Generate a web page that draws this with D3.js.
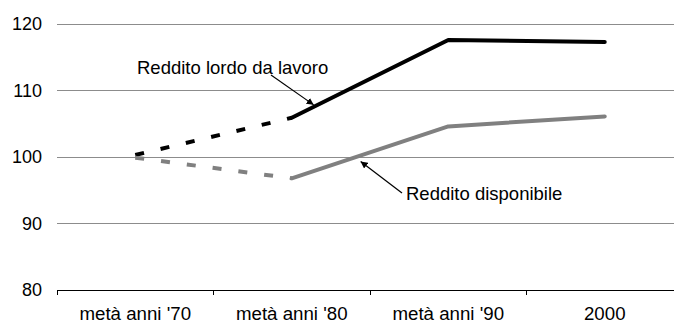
<!DOCTYPE html>
<html>
<head>
<meta charset="utf-8">
<script src="https://cdn.jsdelivr.net/npm/d3@7"></script>
<style>
  html, body { margin: 0; padding: 0; background: #fff; }
  svg { display: block; font-family: "Liberation Sans", Arial, sans-serif; }
</style>
</head>
<body>
<svg id="chart" width="674" height="325"></svg>
<script>
// Periods on the horizontal axis
const categories = ["metà anni '70", "metà anni '80", "metà anni '90", "2000"];
// Index values (metà anni '70 = 100)
const redditoLordo = [100.3, 105.9, 117.6, 117.3];
const redditoDisponibile = [99.9, 96.8, 104.6, 106.1];
const yTicks = [80, 90, 100, 110, 120];

const seriesList = [
  { name: "Reddito lordo da lavoro", values: redditoLordo, color: "#000000" },
  { name: "Reddito disponibile", values: redditoDisponibile, color: "#808080" }
];

const svg = d3.select("#chart");
const plot = { left: 57, right: 683, top: 24, bottom: 290 };

const x = d3.scaleBand().domain(categories).range([plot.left, plot.right]);
const y = d3.scaleLinear().domain([80, 120]).range([plot.bottom, plot.top]);
const cx = c => x(c) + x.bandwidth() / 2;

// Horizontal gridlines
svg.append("g").selectAll("line")
  .data(yTicks.filter(v => v > 80))
  .join("line")
  .attr("x1", plot.left).attr("x2", plot.right)
  .attr("y1", d => y(d)).attr("y2", d => y(d))
  .attr("stroke", "#8c8c8c").attr("stroke-width", 1)
  .attr("shape-rendering", "crispEdges");

// Y axis labels
const yAxis = d3.axisLeft(y).tickValues(yTicks).tickSize(0).tickPadding(15);
const gy = svg.append("g").attr("transform", `translate(${plot.left},0)`).call(yAxis);
gy.select(".domain").remove();
gy.selectAll("text")
  .attr("font-size", 18).attr("fill", "#000")
  .attr("font-family", "'Liberation Sans', Arial, sans-serif");

// X axis with ticks on the band boundaries
svg.append("line")
  .attr("x1", plot.left).attr("x2", plot.right)
  .attr("y1", plot.bottom).attr("y2", plot.bottom)
  .attr("stroke", "#000").attr("stroke-width", 1)
  .attr("shape-rendering", "crispEdges");
svg.append("g").selectAll("line")
  .data(categories)
  .join("line")
  .attr("x1", d => x(d)).attr("x2", d => x(d))
  .attr("y1", plot.bottom).attr("y2", plot.bottom + 5)
  .attr("stroke", "#000").attr("stroke-width", 1)
  .attr("shape-rendering", "crispEdges");
svg.append("g").selectAll("text")
  .data(categories)
  .join("text")
  .attr("x", d => cx(d)).attr("y", 320)
  .attr("text-anchor", "middle")
  .attr("font-size", 18.7)
  .text(d => d);

// Lines: dashed first segment, solid afterwards
const line = d3.line().x(d => cx(d.c)).y(d => y(d.v));
seriesList.forEach(s => {
  const pts = s.values.map((v, i) => ({ c: categories[i], v }));
  svg.append("path")
    .attr("d", line(pts.slice(0, 2)))
    .attr("fill", "none").attr("stroke", s.color)
    .attr("stroke-width", 4).attr("stroke-dasharray", "9,17");
  svg.append("path")
    .attr("d", line(pts.slice(1)))
    .attr("fill", "none").attr("stroke", s.color)
    .attr("stroke-width", 4).attr("stroke-linecap", "round")
    .attr("stroke-linejoin", "round");
});

// Arrow marker
svg.append("defs").append("marker")
  .attr("id", "arrow").attr("viewBox", "0 0 10 10")
  .attr("refX", 10).attr("refY", 5)
  .attr("markerWidth", 7).attr("markerHeight", 7)
  .attr("markerUnits", "userSpaceOnUse")
  .attr("orient", "auto")
  .append("path").attr("d", "M0,0L10,5L0,10z").attr("fill", "#000");

// Annotations pointing at a spot along the segment between metà anni '80 and '90
const annotations = [
  { series: 0, t: 0.14, tipDy: -2, tail: [271, 75], label: [137, 74], anchor: "start" },
  { series: 1, t: 0.44, tipDy: 6, tail: [402, 193], label: [406, 200], anchor: "start" }
];
annotations.forEach(a => {
  const s = seriesList[a.series];
  const x0 = cx(categories[1]), x1 = cx(categories[2]);
  const y0 = y(s.values[1]), y1 = y(s.values[2]);
  const tx = x0 + a.t * (x1 - x0);
  const ty = y0 + a.t * (y1 - y0) + a.tipDy;
  svg.append("line")
    .attr("x1", a.tail[0]).attr("y1", a.tail[1])
    .attr("x2", tx).attr("y2", ty)
    .attr("stroke", "#000").attr("stroke-width", 1.2)
    .attr("marker-end", "url(#arrow)");
  svg.append("text")
    .attr("x", a.label[0]).attr("y", a.label[1])
    .attr("text-anchor", a.anchor)
    .attr("font-size", 18.5)
    .text(s.name);
});
</script>
</body>
</html>
